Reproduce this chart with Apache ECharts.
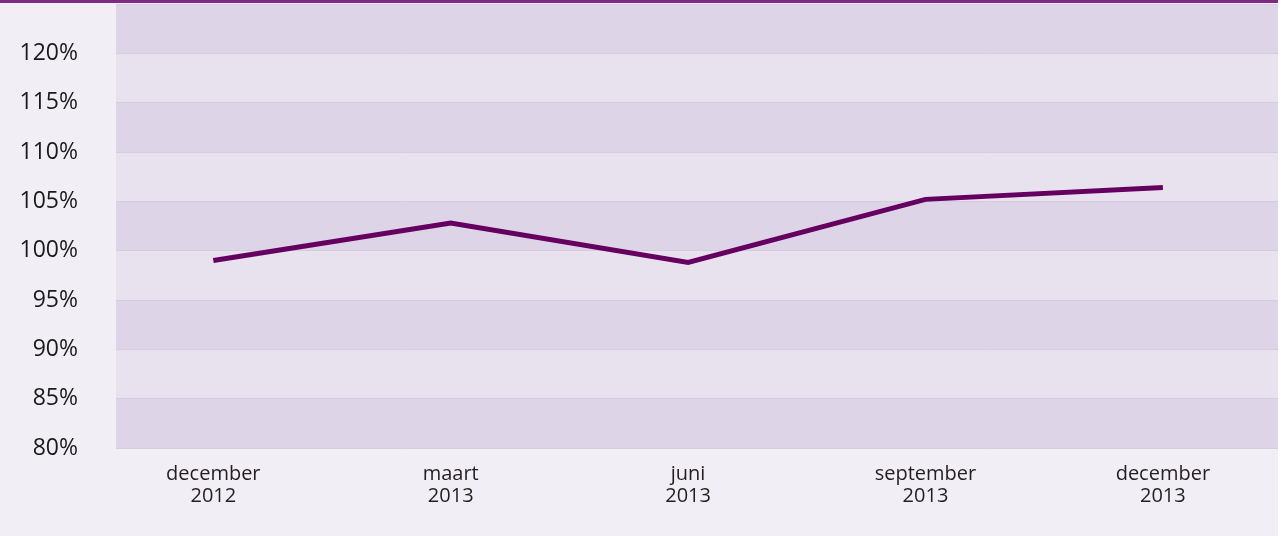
<!DOCTYPE html>
<html>
<head>
<meta charset="utf-8">
<script src="https://cdn.jsdelivr.net/npm/echarts@6/dist/echarts.min.js"></script>
<style>
  html, body {margin:0; padding:0; background:#fff;}
  #chart {width:1278px; height:536px; background:#f1eef5;}
</style>
</head>
<body>
<div id="chart"></div>
<script>
// kwartalen en indexwaarden (%)
const categories = ["december\n2012", "maart\n2013", "juni\n2013", "september\n2013", "december\n2013"];
const values = [99.0, 102.8, 98.8, 105.2, 106.4];
const yTicks = [80, 85, 90, 95, 100, 105, 110, 115, 120];

let chart = echarts.init(document.getElementById('chart'));

let lineData = values.map((v, i) => [i, v]);

let options = {
    animation: false,
    backgroundColor: '#f1eef5',
    textStyle: {fontFamily: 'Open Sans'},
    grid: {left: 116, right: 0, top: 4, bottom: 88, containLabel: false},
    graphic: [{
        type: 'rect',
        shape: {x: 0, y: 0, width: 1278, height: 3},
        style: {fill: '#7d2a80'}
    }],
    xAxis: {
        type: 'value',
        min: -0.41,
        max: 4.485,
        axisLine: {show: false},
        axisTick: {show: false},
        splitLine: {show: false},
        axisLabel: {
            customValues: [0, 1, 2, 3, 4],
            formatter: v => categories[Math.round(v)] || '',
            color: '#231f20',
            fontSize: 20,
            lineHeight: 22,
            margin: 15
        }
    },
    yAxis: {
        type: 'value',
        min: 80,
        max: 125,
        interval: 5,
        axisLine: {show: false},
        axisTick: {show: false},
        axisLabel: {
            formatter: v => (yTicks.includes(v) ? v + '%' : ''),
            color: '#1a1a1a',
            fontSize: 23,
            margin: 38
        },
        splitLine: {show: true, lineStyle: {color: '#d6cce2', width: 1}},
        splitArea: {show: true, areaStyle: {color: ['#ddd5e7', '#e8e2ef']}}
    },
    series: [{
        type: 'line',
        data: lineData,
        symbol: 'none',
        lineStyle: {color: '#650061', width: 5, cap: 'butt', join: 'miter'},
        silent: true
    }]
};
chart.setOption(options);
</script>
</body>
</html>
